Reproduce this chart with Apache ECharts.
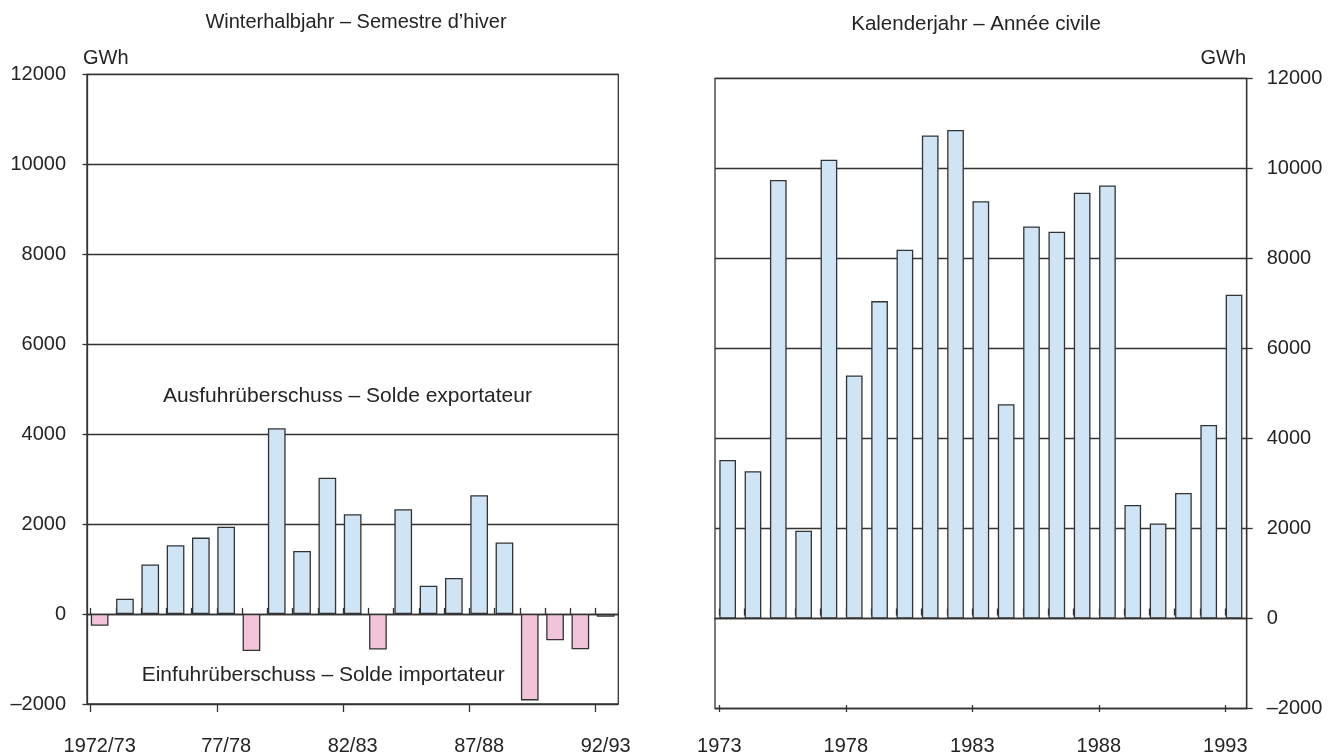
<!DOCTYPE html>
<html>
<head>
<meta charset="utf-8">
<script src="https://cdn.jsdelivr.net/npm/echarts@6/dist/echarts.min.js"></script>
<style>
html,body{margin:0;padding:0;background:#fff;}
#c{width:1342px;height:756px;}
</style>
</head>
<body>
<div id="c"></div>
<script>
// ---- data ----
const winterCats = ['1972/73','73/74','74/75','75/76','76/77','77/78','78/79','79/80','80/81','81/82','82/83','83/84','84/85','85/86','86/87','87/88','88/89','89/90','90/91','91/92','92/93'];
const winterVals = [-260, 340, 1100, 1530, 1700, 1940, -820, 4130, 1400, 3030, 2220, -790, 2330, 630, 800, 2640, 1590, -1920, -585, -785, -60];
const yearCats = ['1973','1974','1975','1976','1977','1978','1979','1980','1981','1982','1983','1984','1985','1986','1987','1988','1989','1990','1991','1992','1993'];
const yearVals = [3520, 3270, 9740, 1950, 10190, 5400, 7050, 8190, 10730, 10850, 9270, 4760, 8710, 8590, 9460, 9620, 2520, 2110, 2790, 4300, 7190];
const yMin = -2000, yMax = 12000, yStep = 2000;
const titles = ['Winterhalbjahr – Semestre d\u2019hiver', 'Kalenderjahr – Année civile'];
const unit = 'GWh';
const notes = ['Ausfuhrüberschuss – Solde exportateur', 'Einfuhrüberschuss – Solde importateur'];

// ---- styling ----
const FONT = '"Liberation Sans", Arial, Helvetica, sans-serif';
const TXT = '#242424';
const LINE = '#333333';
const BLUE = '#cfe4f4';
const PINK = '#f2c4da';
const FS = 20;

const chart = echarts.init(document.getElementById('c'), null, {renderer: 'canvas'});

const gridMainL = {left: 87, top: 74.3, width: 531.3, height: 630.7};
const gridTickL = {left: 90.7, top: 74.3, width: 505, height: 630.7};
const gridMainR = {left: 715, top: 78.3, width: 531.7, height: 630.2};
const gridTickR = {left: 719.3, top: 78.3, width: 506, height: 630.2};

function hiddenValueY(gi) {
  return {type: 'value', gridIndex: gi, min: yMin, max: yMax, interval: yStep,
    axisLine: {show: false}, axisTick: {show: false}, axisLabel: {show: false}, splitLine: {show: false}};
}
function tickAxis(gi, step, inside, len, labels) {
  return {type: 'value', gridIndex: gi, position: 'bottom', min: 0, max: winterCats.length - 1, interval: step,
    axisLine: {show: false},
    axisTick: {show: true, inside: inside, length: len, lineStyle: {color: LINE, width: 1.3}},
    axisLabel: labels ? {show: true, margin: 31, color: TXT, fontSize: FS, fontFamily: FONT,
      formatter: v => labels[v]} : {show: false},
    splitLine: {show: false}};
}

const option = {
  animation: false,
  backgroundColor: '#fff',
  textStyle: {fontFamily: FONT, color: TXT},
  title: [
    {text: titles[0], left: 351, top: 7, textAlign: 'center', textStyle: {fontSize: FS, fontWeight: 'normal', color: TXT, fontFamily: FONT}},
    {text: titles[1], left: 971, top: 9, textAlign: 'center', textStyle: {fontSize: FS + 0.5, fontWeight: 'normal', color: TXT, fontFamily: FONT}}
  ],
  grid: [
    Object.assign({show: true, borderColor: LINE, borderWidth: 1.3, backgroundColor: 'transparent'}, gridMainL),
    Object.assign({show: false}, gridTickL),
    Object.assign({show: true, borderColor: LINE, borderWidth: 1.3, backgroundColor: 'transparent'}, gridMainR),
    Object.assign({show: false}, gridTickR)
  ],
  xAxis: [
    {type: 'category', gridIndex: 0, data: winterCats, boundaryGap: true,
      axisLine: {show: true, lineStyle: {color: LINE, width: 1.3}},
      axisTick: {show: false},
      axisLabel: {show: true, interval: 4, margin: 32, color: TXT, fontSize: FS, fontFamily: FONT},
      splitLine: {show: false}},
    tickAxis(1, 1, true, 7, null),
    tickAxis(1, 5, false, 7, null),
    {type: 'category', gridIndex: 2, data: yearCats, boundaryGap: true,
      axisLine: {show: true, lineStyle: {color: LINE, width: 1.3}},
      axisTick: {show: false},
      axisLabel: {show: false},
      splitLine: {show: false}},
    tickAxis(3, 1, true, 7, null),
    tickAxis(3, 5, false, 7, yearCats)
  ],
  yAxis: [
    {type: 'value', gridIndex: 0, position: 'left', min: yMin, max: yMax, interval: yStep,
      axisLine: {show: true, lineStyle: {color: LINE, width: 1.3}},
      axisTick: {show: true, length: 4.5, lineStyle: {color: LINE, width: 1.3}},
      axisLabel: {show: true, margin: 21, color: TXT, fontSize: FS, fontFamily: FONT,
        formatter: v => v < 0 ? '\u2013' + Math.abs(v) : String(v)},
      splitLine: {show: true, lineStyle: {color: LINE, width: 1.3}}},
    hiddenValueY(1),
    {type: 'value', gridIndex: 2, position: 'right', min: yMin, max: yMax, interval: yStep,
      axisLine: {show: true, lineStyle: {color: LINE, width: 1.3}},
      axisTick: {show: true, length: 6, lineStyle: {color: LINE, width: 1.3}},
      axisLabel: {show: true, margin: 20, color: TXT, fontSize: FS, fontFamily: FONT,
        formatter: v => v < 0 ? '\u2013' + Math.abs(v) : String(v)},
      splitLine: {show: true, lineStyle: {color: LINE, width: 1.3}}},
    hiddenValueY(3)
  ],
  series: [
    {type: 'bar', xAxisIndex: 0, yAxisIndex: 0, data: winterVals, barWidth: 17.7,
      itemStyle: {color: p => (p.value < 0 ? PINK : BLUE), borderColor: LINE, borderWidth: 1.3}},
    {type: 'bar', xAxisIndex: 3, yAxisIndex: 2, data: yearVals, barWidth: 16.7,
      itemStyle: {color: BLUE, borderColor: LINE, borderWidth: 1.3}}
  ],
  graphic: [
    {type: 'text', left: 83, top: 48, style: {text: unit, fontSize: FS, fontFamily: FONT, fill: TXT}},
    {type: 'text', right: 1342 - 1246, top: 48, style: {text: unit, fontSize: FS, fontFamily: FONT, fill: TXT}},
    {type: 'text', left: 163, top: 386, style: {text: notes[0], fontSize: 21, fontFamily: FONT, fill: TXT}},
    {type: 'text', left: 141.7, top: 665, style: {text: notes[1], fontSize: 21, fontFamily: FONT, fill: TXT}}
  ]
};
chart.setOption(option);
</script>
</body>
</html>
